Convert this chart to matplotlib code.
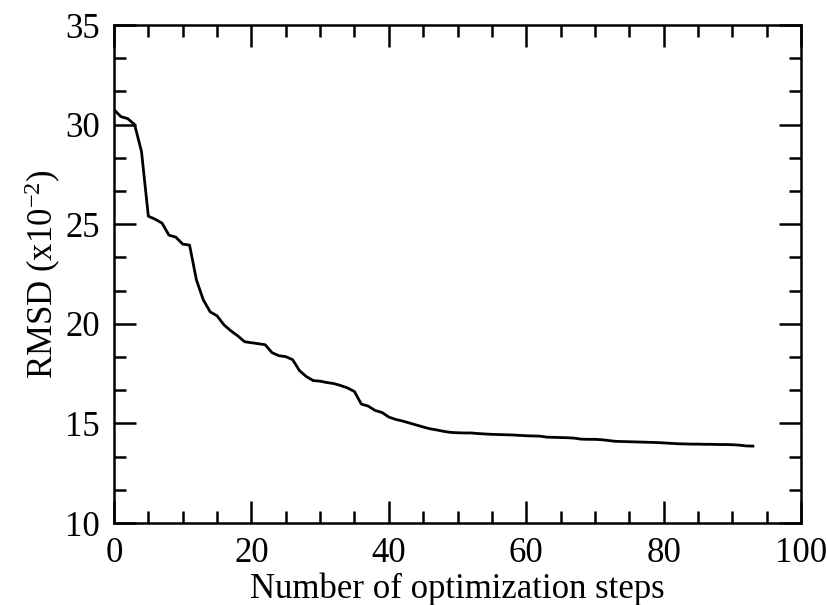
import matplotlib
matplotlib.use("Agg")
import matplotlib.pyplot as plt
from matplotlib.ticker import MultipleLocator

plt.rcParams['font.family'] = ['Liberation Serif', 'DejaVu Serif']
plt.rcParams['mathtext.fontset'] = 'custom'
plt.rcParams['mathtext.rm'] = 'Liberation Serif'
plt.rcParams['mathtext.it'] = 'Liberation Serif:italic'

steps = list(range(94))
rmsd = [30.75, 30.4, 30.3, 30.0, 28.65, 25.4, 25.25, 25.05, 24.45, 24.35,
        24.0, 23.95, 22.2, 21.2, 20.6, 20.4, 19.95, 19.65, 19.4, 19.1,
        19.05, 19.0, 18.95, 18.55, 18.4, 18.35, 18.2, 17.65, 17.35, 17.15,
        17.12, 17.05, 17.0, 16.9, 16.78, 16.6, 15.97, 15.87, 15.65, 15.55,
        15.32, 15.2, 15.12, 15.02, 14.92, 14.82, 14.73, 14.67, 14.6, 14.55,
        14.53, 14.52, 14.52, 14.49, 14.47, 14.45, 14.44, 14.43, 14.42, 14.4,
        14.38, 14.37, 14.36, 14.31, 14.3, 14.29, 14.28, 14.26, 14.21, 14.2,
        14.2, 14.18, 14.14, 14.1, 14.09, 14.08, 14.07, 14.06, 14.05, 14.04,
        14.02, 14.0, 13.98, 13.97, 13.96, 13.96, 13.95, 13.95, 13.94, 13.94,
        13.93, 13.91, 13.87, 13.86]

xlabel = "Number of optimization steps"
ylabel = "RMSD (x10$^{\\mathregular{-2}}$)"

W, H = 828, 605
fig = plt.figure(figsize=(W / 100, H / 100), dpi=100)
ax = fig.add_axes([114 / W, 1 - 523 / H, (801 - 114) / W, (523 - 25) / H])

ax.plot(steps, rmsd, color='black', lw=2.0)

ax.set_xlim(0, 100)
ax.set_ylim(10, 35)
ax.xaxis.set_major_locator(MultipleLocator(20))
ax.xaxis.set_minor_locator(MultipleLocator(5))
ax.yaxis.set_major_locator(MultipleLocator(5))
ax.yaxis.set_minor_locator(MultipleLocator(5 / 3))

for s in ax.spines.values():
    s.set_linewidth(1.8)

ax.tick_params(which='both', direction='in', top=True, right=True, width=1.8,
               labelsize=25, pad=10)
ax.tick_params(which='major', length=16)
ax.tick_params(which='minor', length=8.5)

ax.set_xlabel(xlabel, fontsize=25, labelpad=2)
ax.set_ylabel(ylabel, fontsize=25, labelpad=2)

fig.savefig("out.png", dpi=100)
